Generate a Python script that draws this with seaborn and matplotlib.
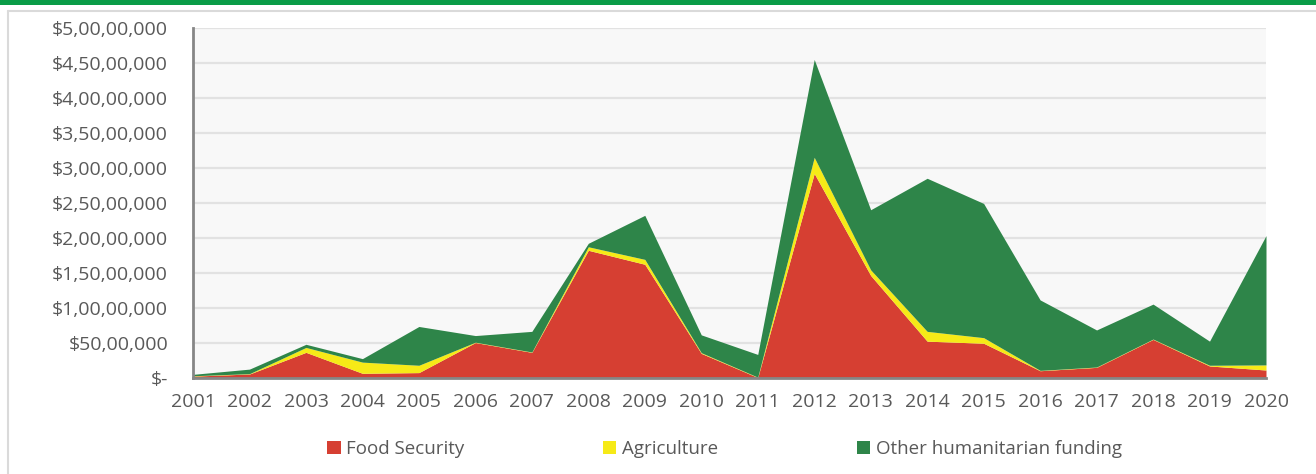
import matplotlib
matplotlib.use("Agg")
import matplotlib.pyplot as plt
from matplotlib.patches import Patch, Rectangle
from matplotlib.lines import Line2D
from matplotlib.ticker import FuncFormatter, MultipleLocator
import seaborn as sns
import pandas as pd

# Funding by year, in US dollars (millions below, scaled on use)
years = list(range(2001, 2021))
food_security = [0.2, 0.5, 3.6, 0.6, 0.7, 5.0, 3.6, 18.2, 16.2, 3.45,
                 0.0, 29.2, 14.6, 5.2, 4.9, 0.97, 1.45, 5.45, 1.65, 1.07]
agriculture = [0.05, 0.05, 0.7, 1.6, 1.05, 0.05, 0.05, 0.5, 0.7, 0.1,
               0.05, 2.3, 0.8, 1.4, 0.8, 0.05, 0.05, 0.05, 0.1, 0.73]
other_humanitarian = [0.2, 0.65, 0.45, 0.5, 5.55, 0.95, 2.95, 0.5, 6.3, 2.55,
                      3.25, 14.0, 8.6, 21.9, 19.2, 10.08, 5.3, 5.0, 3.45, 18.5]
series_names = ["Food Security", "Agriculture", "Other humanitarian funding"]
series_colors = ["#D63F32", "#F6EA17", "#2E8549"]

df = pd.DataFrame({
    "year": years,
    series_names[0]: [v * 1e6 for v in food_security],
    series_names[1]: [v * 1e6 for v in agriculture],
    series_names[2]: [v * 1e6 for v in other_humanitarian],
})

sns.set_theme(style="white")
plt.rcParams["font.family"] = ["Open Sans", "DejaVu Sans"]
text_color = "#595959"
axis_color = "#868686"

fig = plt.figure(figsize=(13.16, 4.74), dpi=100)
fig.patch.set_facecolor("white")

# header band and outer frame
fig.add_artist(Rectangle((0, 1 - 5 / 474), 1, 5 / 474, transform=fig.transFigure,
                         facecolor="#0A9C47", edgecolor="none"))
fig.add_artist(Line2D([8 / 1316, 8 / 1316], [0, 1 - 10.5 / 474], transform=fig.transFigure,
                      color="#DADADA", lw=1.5))
fig.add_artist(Line2D([8 / 1316, 1], [1 - 10.5 / 474, 1 - 10.5 / 474], transform=fig.transFigure,
                      color="#DADADA", lw=1.5))

ax = fig.add_axes([193 / 1316, 1 - 377.5 / 474, (1266 - 193) / 1316, (377.5 - 28) / 474])
ax.set_facecolor("#F8F8F8")

ax.stackplot(df["year"], df[series_names[0]], df[series_names[1]], df[series_names[2]],
             colors=series_colors, labels=series_names, linewidth=0, zorder=2)

ax.set_xlim(2001, 2020)
ax.set_ylim(0, 5e7)
ax.set_xticks(years)
ax.yaxis.set_major_locator(MultipleLocator(5e6))


def indian_dollars(v, pos=None):
    v = int(round(v))
    if v == 0:
        return "$-"
    s = str(v)
    last3, rest = s[-3:], s[:-3]
    groups = []
    while len(rest) > 2:
        groups.insert(0, rest[-2:])
        rest = rest[:-2]
    if rest:
        groups.insert(0, rest)
    return "$" + ",".join(groups + [last3])


ax.yaxis.set_major_formatter(FuncFormatter(indian_dollars))
ax.grid(axis="y", color="#E2E2E2", lw=1.6, zorder=0)
ax.grid(axis="x", visible=False)
ax.set_axisbelow(True)

sns.despine(ax=ax, top=True, right=True)
for side in ["left", "bottom"]:
    ax.spines[side].set_color(axis_color)
    ax.spines[side].set_linewidth(2)
    ax.spines[side].set_zorder(3)

ax.tick_params(axis="both", which="major", direction="out", length=5, width=1.5,
               color=axis_color, labelcolor=text_color, labelsize=14)
ax.tick_params(axis="y", pad=13)
ax.tick_params(axis="x", pad=6)
ax.set_xlabel("")
ax.set_ylabel("")

handles = [Patch(facecolor=c, edgecolor="none", label=n) for n, c in zip(series_names, series_colors)]
leg = fig.legend(handles=handles, loc="center", bbox_to_anchor=(724.5 / 1316, 1 - 449 / 474),
                 ncol=3, frameon=False, fontsize=13.5, handlelength=0.7, handleheight=0.7,
                 handletextpad=0.3, columnspacing=7.4, borderpad=0)
for t in leg.get_texts():
    t.set_color(text_color)

fig.savefig("out.png", dpi=100, facecolor="white")
